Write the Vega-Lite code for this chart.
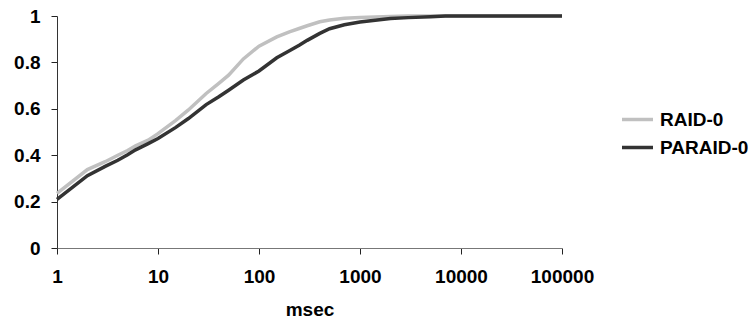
{
  "$schema": "https://vega.github.io/schema/vega-lite/v6.json",
  "autosize": "none",
  "width": 505,
  "height": 232,
  "padding": {"left": 57, "top": 16, "right": 189, "bottom": 77},
  "background": "white",
  "config": {
    "view": {"stroke": null},
    "font": "Liberation Sans",
    "axis": {"labelFont": "Liberation Sans", "labelFontWeight": "bold", "labelFontSize": 19, "labelColor": "#000", "titleFont": "Liberation Sans", "titleFontWeight": "bold", "titleFontSize": 19, "titleColor": "#000", "grid": false, "tickColor": "#222", "domainColor": "#444", "tickSize": 6}
  },
  "data": {
    "values": [
      {"msec": 1, "cdf": 0.235, "series": "RAID-0"},
      {"msec": 2, "cdf": 0.338, "series": "RAID-0"},
      {"msec": 3, "cdf": 0.372, "series": "RAID-0"},
      {"msec": 4, "cdf": 0.4, "series": "RAID-0"},
      {"msec": 5, "cdf": 0.42, "series": "RAID-0"},
      {"msec": 6, "cdf": 0.44, "series": "RAID-0"},
      {"msec": 8, "cdf": 0.465, "series": "RAID-0"},
      {"msec": 10, "cdf": 0.493, "series": "RAID-0"},
      {"msec": 15, "cdf": 0.55, "series": "RAID-0"},
      {"msec": 20, "cdf": 0.595, "series": "RAID-0"},
      {"msec": 30, "cdf": 0.666, "series": "RAID-0"},
      {"msec": 40, "cdf": 0.71, "series": "RAID-0"},
      {"msec": 50, "cdf": 0.745, "series": "RAID-0"},
      {"msec": 70, "cdf": 0.815, "series": "RAID-0"},
      {"msec": 100, "cdf": 0.87, "series": "RAID-0"},
      {"msec": 150, "cdf": 0.91, "series": "RAID-0"},
      {"msec": 200, "cdf": 0.932, "series": "RAID-0"},
      {"msec": 250, "cdf": 0.946, "series": "RAID-0"},
      {"msec": 300, "cdf": 0.958, "series": "RAID-0"},
      {"msec": 400, "cdf": 0.975, "series": "RAID-0"},
      {"msec": 500, "cdf": 0.983, "series": "RAID-0"},
      {"msec": 700, "cdf": 0.99, "series": "RAID-0"},
      {"msec": 1000, "cdf": 0.994, "series": "RAID-0"},
      {"msec": 2000, "cdf": 0.998, "series": "RAID-0"},
      {"msec": 3000, "cdf": 1, "series": "RAID-0"},
      {"msec": 10000, "cdf": 1, "series": "RAID-0"},
      {"msec": 100000, "cdf": 1, "series": "RAID-0"},
      {"msec": 1, "cdf": 0.21, "series": "PARAID-0"},
      {"msec": 2, "cdf": 0.312, "series": "PARAID-0"},
      {"msec": 3, "cdf": 0.352, "series": "PARAID-0"},
      {"msec": 4, "cdf": 0.378, "series": "PARAID-0"},
      {"msec": 5, "cdf": 0.402, "series": "PARAID-0"},
      {"msec": 6, "cdf": 0.423, "series": "PARAID-0"},
      {"msec": 8, "cdf": 0.45, "series": "PARAID-0"},
      {"msec": 10, "cdf": 0.472, "series": "PARAID-0"},
      {"msec": 15, "cdf": 0.52, "series": "PARAID-0"},
      {"msec": 20, "cdf": 0.558, "series": "PARAID-0"},
      {"msec": 30, "cdf": 0.618, "series": "PARAID-0"},
      {"msec": 40, "cdf": 0.652, "series": "PARAID-0"},
      {"msec": 50, "cdf": 0.68, "series": "PARAID-0"},
      {"msec": 70, "cdf": 0.724, "series": "PARAID-0"},
      {"msec": 100, "cdf": 0.763, "series": "PARAID-0"},
      {"msec": 150, "cdf": 0.82, "series": "PARAID-0"},
      {"msec": 200, "cdf": 0.85, "series": "PARAID-0"},
      {"msec": 250, "cdf": 0.874, "series": "PARAID-0"},
      {"msec": 300, "cdf": 0.895, "series": "PARAID-0"},
      {"msec": 400, "cdf": 0.925, "series": "PARAID-0"},
      {"msec": 500, "cdf": 0.945, "series": "PARAID-0"},
      {"msec": 700, "cdf": 0.962, "series": "PARAID-0"},
      {"msec": 1000, "cdf": 0.974, "series": "PARAID-0"},
      {"msec": 2000, "cdf": 0.989, "series": "PARAID-0"},
      {"msec": 3000, "cdf": 0.993, "series": "PARAID-0"},
      {"msec": 5000, "cdf": 0.997, "series": "PARAID-0"},
      {"msec": 7000, "cdf": 1, "series": "PARAID-0"},
      {"msec": 10000, "cdf": 1, "series": "PARAID-0"},
      {"msec": 100000, "cdf": 1, "series": "PARAID-0"}
    ]
  },
  "mark": {"type": "line", "strokeWidth": 3.5, "interpolate": "linear"},
  "encoding": {
    "x": {
      "field": "msec", "type": "quantitative",
      "scale": {"type": "log", "domain": [1, 100000], "nice": false},
      "axis": {"values": [1, 10, 100, 1000, 10000, 100000], "format": "d", "labelPadding": 13, "title": "msec", "titlePadding": 14, "domainColor": "#777", "labelFlush": false}
    },
    "y": {
      "field": "cdf", "type": "quantitative",
      "scale": {"domain": [0, 1], "nice": false},
      "axis": {"values": [0, 0.2, 0.4, 0.6, 0.8, 1], "format": "~g", "labelPadding": 11, "title": null, "domainColor": "#333"}
    },
    "color": {
      "field": "series", "type": "nominal",
      "scale": {"domain": ["RAID-0", "PARAID-0"], "range": ["#c0c0c0", "#333333"]},
      "legend": {"title": null, "orient": "none", "legendX": 563, "legendY": 86, "symbolType": "stroke", "symbolSize": 961, "symbolStrokeWidth": 3.5, "labelFont": "Liberation Sans", "labelFontWeight": "bold", "labelFontSize": 19, "labelColor": "#000", "labelOffset": 5, "rowPadding": -1, "padding": 0, "offset": 0}
    },
    "order": {"field": "series"}
  }
}
